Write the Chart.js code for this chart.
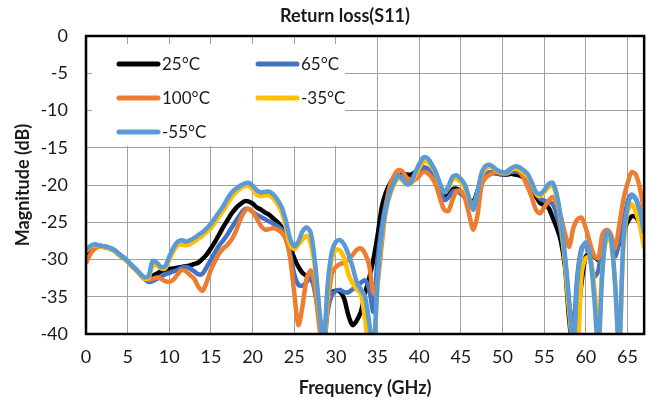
<!DOCTYPE html>
<html>
<head>
<meta charset="utf-8">
<script src="https://cdn.jsdelivr.net/npm/chart.js@4/dist/chart.umd.min.js"></script>
<style>
  html, body { margin: 0; padding: 0; background: #fff; }
  #wrap { width: 650px; height: 406px; }
</style>
</head>
<body>
<div id="wrap"><canvas id="chart"></canvas></div>
<script>
// frequency axis, 0.5 GHz steps from 0 to 67
const freq = [];
for (let i = 0; i <= 134; i++) freq.push(i / 2);

const seriesLabels = ["25°C", "65°C", "100°C", "-35°C", "-55°C"];
const seriesColors = ["#000000", "#4472C4", "#ED7D31", "#FFC000", "#5B9BD5"];

// values in dB, one row = 5 GHz
const s25 = [
  -29.3, -28.6, -28.2, -28.2, -28.3, -28.4, -28.6, -28.9, -29.4, -29.8,
  -30.3, -30.9, -31.4, -32.0, -32.6, -32.7, -32.2, -31.9, -31.6, -31.4,
  -31.3, -31.2, -31.1, -31.0, -30.9, -30.8, -30.6, -30.4, -29.9, -29.3,
  -28.5, -27.6, -26.6, -25.6, -24.7, -23.8, -23.1, -22.6, -22.2, -22.2,
  -22.5, -23.0, -23.3, -23.7, -24.0, -24.5, -25.0, -25.7, -26.8, -28.4,
  -29.8, -31.0, -31.8, -32.2, -32.5, -34.0, -37.5, -40.5, -36.5, -34.5,
  -34.2, -34.3, -35.3, -37.5, -38.8, -38.2, -37.0, -34.5, -32.5, -30.0,
  -26.8, -23.0, -21.0, -19.8, -19.0, -18.7, -18.7, -18.6, -18.6, -18.3,
  -18.0, -17.8, -17.9, -18.3, -19.0, -20.3, -21.5, -21.4, -20.6, -20.5,
  -20.9, -21.6, -22.0, -22.2, -20.8, -19.0, -18.5, -18.4, -18.4, -18.5,
  -18.6, -18.6, -18.5, -18.6, -18.7, -19.0, -19.6, -20.3, -21.5, -22.4,
  -22.7, -23.0, -24.3, -25.7, -27.5, -31.0, -38.0, -42.0, -38.0, -33.0,
  -29.6, -29.3, -29.6, -30.0, -27.8, -26.7, -27.2, -29.4, -27.8, -26.3,
  -25.0, -24.2, -24.3, -25.2, -26.0,
];

const s65 = [
  -28.9, -28.3, -28.0, -28.1, -28.2, -28.3, -28.5, -28.8, -29.3, -29.7,
  -30.2, -30.8, -31.4, -32.0, -32.6, -33.0, -32.9, -32.6, -32.3, -32.0,
  -31.8, -31.6, -31.4, -31.1, -31.0, -31.2, -31.6, -32.0, -31.9, -31.0,
  -30.0, -29.0, -28.1, -27.4, -26.6, -25.7, -24.8, -24.0, -23.3, -23.2,
  -23.6, -24.0, -24.3, -24.6, -24.9, -25.2, -25.5, -26.0, -27.2, -29.2,
  -32.0, -33.4, -33.5, -33.0, -32.3, -34.5, -38.0, -42.0, -37.0, -34.8,
  -34.2, -34.1, -34.4, -34.4, -34.0, -33.6, -33.1, -32.8, -34.0, -37.0,
  -30.0, -25.5, -22.5, -20.6, -19.4, -18.8, -18.9, -19.3, -19.3, -18.5,
  -17.9, -17.6, -17.8, -18.3, -19.2, -20.6, -22.0, -21.7, -20.9, -20.8,
  -21.2, -21.6, -22.0, -22.4, -21.0, -19.2, -18.5, -18.3, -18.3, -18.5,
  -18.6, -18.5, -18.3, -18.2, -18.3, -18.7, -19.4, -20.3, -21.2, -21.8,
  -22.1, -22.3, -22.5, -24.0, -26.2, -30.0, -36.0, -39.0, -32.0, -28.4,
  -28.0, -29.8, -32.3, -31.5, -27.5, -26.3, -26.8, -29.6, -27.5, -25.2,
  -22.3, -21.3, -21.9, -23.5, -25.5,
];

const s100 = [
  -30.5, -29.3, -28.6, -28.3, -28.3, -28.4, -28.6, -28.9, -29.3, -29.8,
  -30.3, -30.8, -31.3, -31.9, -32.5, -32.7, -32.6, -32.4, -32.6, -32.9,
  -33.0, -32.7, -32.0, -31.4, -31.6, -32.1, -32.6, -33.7, -34.2, -33.0,
  -31.4, -30.2, -29.2, -28.5, -28.0, -27.3, -26.2, -24.7, -23.6, -23.2,
  -23.6, -24.5, -25.5, -26.0, -25.9, -25.8, -26.0, -26.4, -27.3, -29.8,
  -34.5, -38.8, -36.2, -32.5, -31.5, -33.8, -39.0, -42.0, -36.5, -32.0,
  -31.0, -30.6, -30.4, -30.0, -29.4, -28.7, -28.5, -29.2, -30.8, -34.5,
  -33.0, -28.0, -23.0, -20.0, -18.7, -18.0, -18.2, -19.0, -19.6, -19.3,
  -18.8, -18.2, -18.4, -19.0, -20.0, -21.8, -23.3, -23.5, -22.0, -20.8,
  -20.8, -21.8, -24.0, -26.0, -24.0, -20.0, -19.0, -18.6, -18.3, -18.3,
  -18.4, -18.2, -17.8, -17.8, -18.1, -19.0, -20.2, -21.6, -23.3, -23.8,
  -23.0, -22.2, -21.6, -22.5, -24.2, -26.5, -28.3, -25.8, -24.6, -24.4,
  -25.8, -27.8, -29.5, -29.8, -26.6, -26.0, -26.6, -28.5, -25.5, -22.0,
  -19.8, -18.3, -18.6, -20.5, -23.5,
];

const sMinus35 = [
  -28.9, -28.3, -28.1, -28.2, -28.3, -28.4, -28.6, -28.9, -29.4, -29.8,
  -30.3, -30.9, -31.4, -32.0, -32.6, -32.5, -30.8, -30.8, -31.2, -31.2,
  -30.0, -28.9, -28.1, -28.0, -28.1, -27.9, -27.6, -27.2, -26.8, -26.3,
  -25.8, -25.0, -24.2, -23.4, -22.5, -21.6, -21.0, -20.5, -20.2, -20.1,
  -20.6, -21.3, -21.5, -21.4, -21.4, -21.8, -22.6, -23.7, -25.6, -28.0,
  -28.6, -28.0, -27.3, -26.8, -28.0, -31.2, -37.0, -42.0, -34.5, -30.0,
  -28.7, -28.8, -29.8, -32.0, -33.2, -34.0, -34.7, -38.0, -42.0, -42.0,
  -33.5, -27.0, -23.5, -21.3, -19.9, -19.1, -19.4, -19.9, -19.8, -18.8,
  -17.7, -16.9, -16.9, -17.5, -18.5, -19.9, -20.9, -20.4, -19.3, -19.2,
  -19.6, -20.4, -22.0, -23.0, -21.0, -18.7, -17.8, -17.6, -17.8, -18.2,
  -18.4, -18.4, -18.0, -17.8, -17.9, -18.3, -18.8, -19.8, -21.1, -21.5,
  -21.0, -20.3, -20.1, -21.6, -25.0, -30.5, -37.0, -42.0, -42.0, -32.0,
  -29.8, -29.8, -33.5, -40.0, -31.0, -27.2, -27.6, -33.0, -42.0, -28.5,
  -23.6, -22.6, -23.6, -25.5, -28.5,
];

const sMinus55 = [
  -28.7, -28.2, -28.0, -28.1, -28.2, -28.3, -28.5, -28.8, -29.3, -29.7,
  -30.2, -30.8, -31.3, -31.9, -32.4, -32.2, -30.2, -30.4, -31.0, -30.9,
  -29.6, -28.4, -27.6, -27.4, -27.6, -27.4, -27.1, -26.7, -26.3, -25.8,
  -25.2, -24.4, -23.6, -22.8, -21.8, -21.0, -20.5, -20.1, -19.8, -19.7,
  -20.1, -20.7, -21.0, -20.9, -20.9, -21.3, -22.0, -23.0, -24.8, -27.2,
  -28.2, -27.6, -26.2, -25.7, -26.5, -30.5, -36.5, -42.0, -33.5, -29.0,
  -27.6, -27.4, -28.0, -29.3, -31.0, -33.0, -34.0, -35.0, -38.5, -42.0,
  -33.0, -26.5, -23.2, -21.0, -19.6, -18.7, -19.2, -19.9, -19.7, -18.4,
  -17.2, -16.3, -16.4, -17.2, -18.3, -19.8, -21.0, -20.2, -18.9, -18.7,
  -19.2, -20.0, -21.8, -23.3, -21.0, -18.3, -17.4, -17.3, -17.7, -18.1,
  -18.3, -18.3, -17.8, -17.5, -17.6, -18.0, -18.5, -19.6, -20.9, -21.2,
  -20.7, -19.9, -19.7, -21.2, -24.5, -29.5, -35.5, -42.0, -32.7, -28.8,
  -27.7, -29.5, -35.0, -42.0, -31.5, -26.3, -27.0, -33.0, -42.0, -27.5,
  -22.9, -21.4, -21.8, -23.5, -26.5,
];

const seriesValues = [s25, s65, s100, sMinus35, sMinus55];
// Excel style stacking: last series on top
const drawOrder = [4, 3, 2, 1, 0];

const xTicks = [0, 5, 10, 15, 20, 25, 30, 35, 40, 45, 50, 55, 60, 65];
const yTicks = [0, -5, -10, -15, -20, -25, -30, -35, -40];

const FONT = "Lato, 'Open Sans', sans-serif";
const TEXT = "#1a1a1a";

const datasets = seriesLabels.map((label, i) => ({
  label,
  data: freq.map((f, j) => ({ x: f, y: seriesValues[i][j] })),
  borderColor: seriesColors[i],
  backgroundColor: seriesColors[i],
  borderWidth: 4.5,
  pointRadius: 0,
  tension: 0.3,
  order: drawOrder[i],
}));

// title centred a bit right of the canvas middle, like the source
const titlePlugin = {
  id: "titleText",
  afterDraw(chart) {
    const { ctx, chartArea } = chart;
    const x = (chart.width / 2 + (chartArea.left + chartArea.right) / 2) / 2;
    ctx.save();
    ctx.font = `bold 18px ${FONT}`;
    ctx.fillStyle = TEXT;
    ctx.textAlign = "center";
    ctx.textBaseline = "middle";
    ctx.fillText("Return loss(S11)", x, 16);
    ctx.restore();
  },
};

// legend box sits inside the plot area, two columns
const legendPlugin = {
  id: "insideLegend",
  beforeDatasetsDraw(chart) {
    const { ctx, chartArea } = chart;
    const left = chartArea.left;
    const top = chartArea.top;
    ctx.save();
    ctx.fillStyle = "#fff";
    ctx.fillRect(left + 6, top + 8, 253, 102);
    ctx.font = `17px ${FONT}`;
    ctx.textBaseline = "middle";
    ctx.textAlign = "left";
    chart.data.datasets.forEach((ds, i) => {
      const col = i % 2;
      const row = Math.floor(i / 2);
      const lx = left + (col ? 172 : 33);
      const ly = top + 28 + row * 34;
      ctx.strokeStyle = ds.borderColor;
      ctx.lineWidth = 5;
      ctx.lineCap = "round";
      ctx.beginPath();
      ctx.moveTo(lx, ly);
      ctx.lineTo(lx + 39, ly);
      ctx.stroke();
      ctx.fillStyle = TEXT;
      ctx.fillText(ds.label, lx + 43, ly + 1);
    });
    ctx.restore();
  },
  afterDatasetsDraw(chart) {
    const { ctx, chartArea } = chart;
    ctx.save();
    ctx.strokeStyle = "#000";
    ctx.lineWidth = 2.5;
    ctx.strokeRect(
      chartArea.left,
      chartArea.top,
      chartArea.right - chartArea.left,
      chartArea.bottom - chartArea.top,
    );
    ctx.restore();
  },
};

new Chart(document.getElementById("chart"), {
  type: "line",
  data: { datasets },
  plugins: [titlePlugin, legendPlugin],
  options: {
    responsive: true,
    maintainAspectRatio: false,
    animation: false,
    layout: { padding: { top: 36, right: 3, left: 0, bottom: 0 } },
    plugins: {
      legend: { display: false },
      title: { display: false },
      tooltip: { enabled: false },
    },
    scales: {
      x: {
        type: "linear",
        min: 0,
        max: 67,
        afterFit(scale) {
          scale.height = 72;
        },
        afterBuildTicks(scale) {
          scale.ticks = xTicks.map((v) => ({ value: v }));
        },
        grid: { color: "#a0a0a0", lineWidth: 1, drawTicks: false },
        border: { display: false },
        ticks: {
          padding: 12,
          color: TEXT,
          font: { family: FONT, size: 18 },
          maxRotation: 0,
        },
        title: {
          display: true,
          text: "Frequency (GHz)",
          color: TEXT,
          font: { family: FONT, size: 18, weight: "bold" },
          padding: { top: 0, bottom: 7 },
        },
      },
      y: {
        min: -40,
        max: 0,
        afterFit(scale) {
          scale.width = 86;
        },
        afterBuildTicks(scale) {
          scale.ticks = yTicks.map((v) => ({ value: v }));
        },
        grid: { color: "#a0a0a0", lineWidth: 1, drawTicks: false },
        border: { display: false },
        ticks: {
          padding: 18,
          color: TEXT,
          font: { family: FONT, size: 18 },
        },
        title: {
          display: true,
          text: "Magnitude (dB)",
          color: TEXT,
          font: { family: FONT, size: 18, weight: "bold" },
          padding: { top: 12, bottom: 0 },
        },
      },
    },
  },
});
</script>
</body>
</html>
